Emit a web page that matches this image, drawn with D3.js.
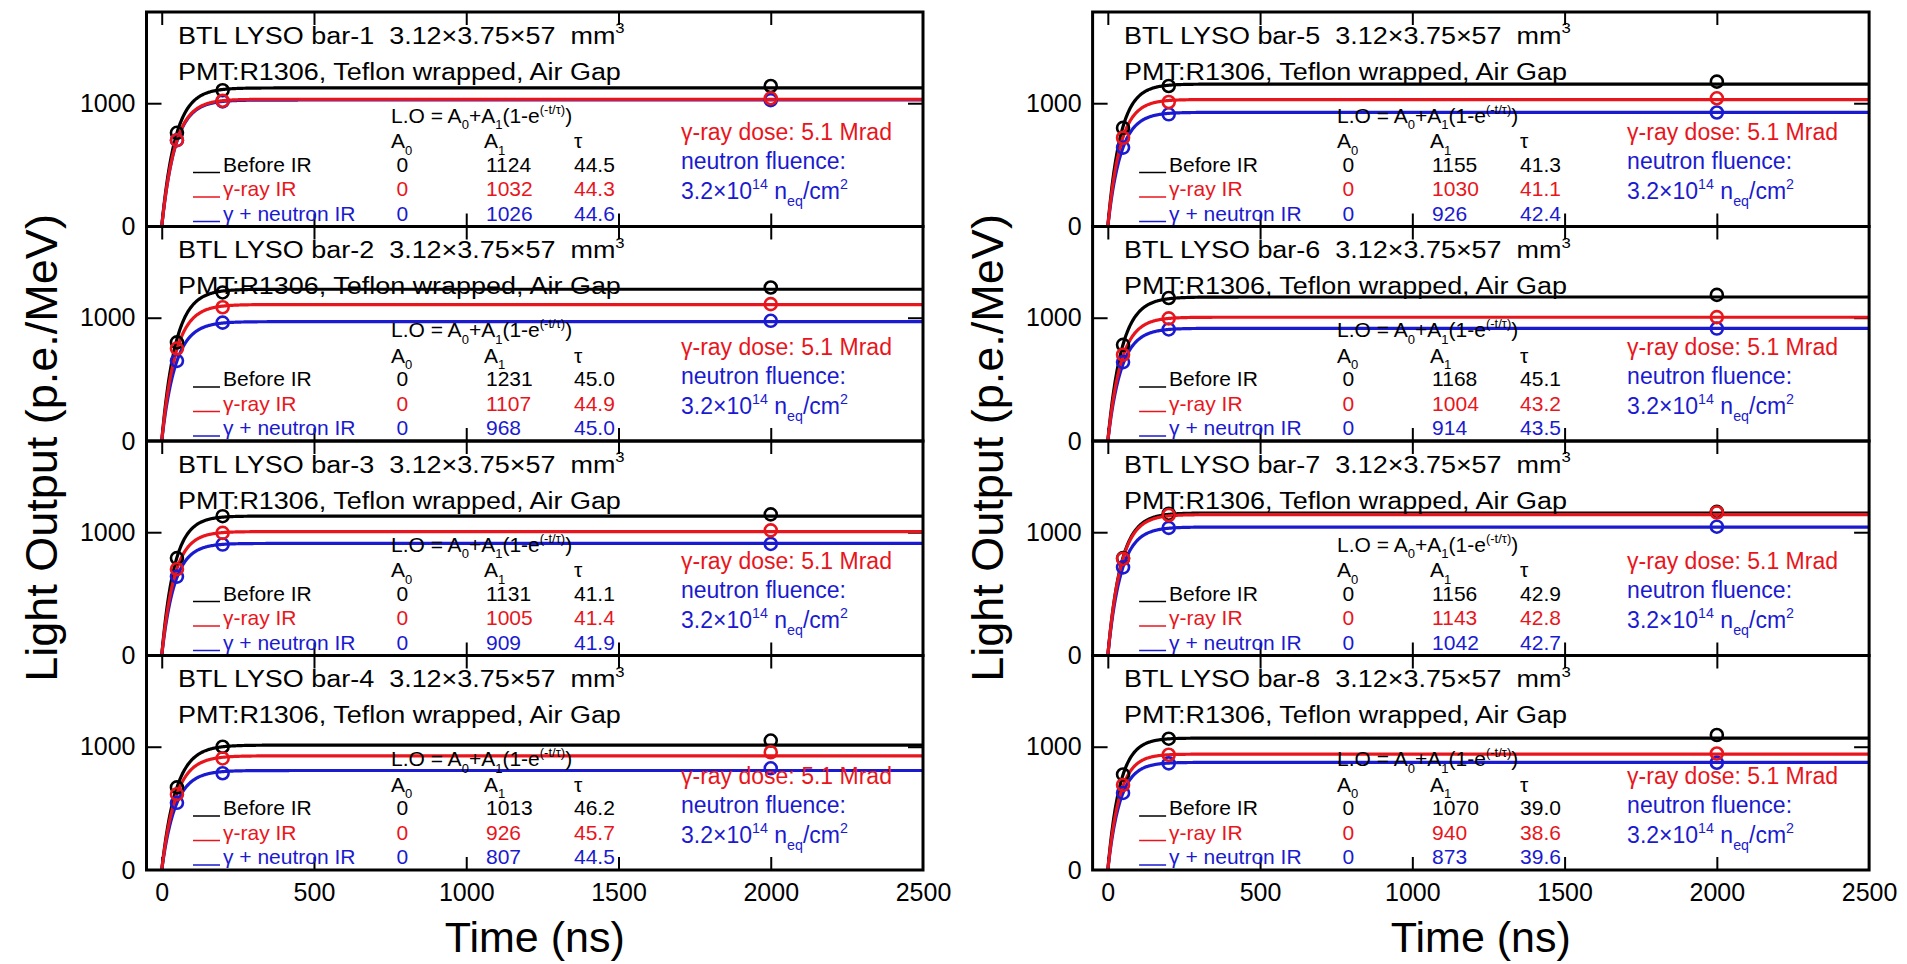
<!DOCTYPE html>
<html>
<head>
<meta charset="utf-8">
<script src="https://cdn.jsdelivr.net/npm/d3@7"></script>
<style>
body { margin: 0; background: #fff; }
text { font-family: "Liberation Sans", Arial, sans-serif; }
</style>
</head>
<body>
<script>
// Light output vs integration time, 8 BTL LYSO bars, before / after irradiation

var width = 1907,
    height = 964;

var bars = ["bar-1", "bar-2", "bar-3", "bar-4", "bar-5", "bar-6", "bar-7", "bar-8"];
var seriesNames = ["Before IR", "γ-ray IR", "γ + neutron IR"];
var seriesColors = ["#000000", "#e8161c", "#1a1ad0"];
var pointTimes = [50, 200, 2000];
var xTicks = [0, 500, 1000, 1500, 2000, 2500];
var yTicks = [0, 1000];

// fit parameters per bar: [before, gamma, gamma+neutron]
var fitA0 = [
  [0, 0, 0], [0, 0, 0], [0, 0, 0], [0, 0, 0],
  [0, 0, 0], [0, 0, 0], [0, 0, 0], [0, 0, 0]
];
var fitA1 = [
  [1124, 1032, 1026], [1231, 1107, 968], [1131, 1005, 909], [1013, 926, 807],
  [1155, 1030, 926], [1168, 1004, 914], [1156, 1143, 1042], [1070, 940, 873]
];
var fitTau = [
  ["44.5", "44.3", "44.6"], ["45.0", "44.9", "45.0"], ["41.1", "41.4", "41.9"], ["46.2", "45.7", "44.5"],
  ["41.3", "41.1", "42.4"], ["45.1", "43.2", "43.5"], ["42.9", "42.8", "42.7"], ["39.0", "38.6", "39.6"]
];

var measured = [
  [[760, 1105, 1140], [700, 1020, 1040], [700, 1015, 1025]],
  [[800, 1205, 1245], [750, 1085, 1110], [650, 960, 975]],
  [[790, 1130, 1145], [700, 995, 1015], [640, 900, 905]],
  [[670, 1000, 1050], [615, 905, 955], [545, 785, 825]],
  [[800, 1140, 1175], [720, 1010, 1040], [640, 910, 925]],
  [[780, 1160, 1185], [700, 995, 1005], [640, 905, 912]],
  [[790, 1150, 1165], [785, 1140, 1160], [715, 1035, 1045]],
  [[775, 1065, 1095], [690, 935, 945], [625, 865, 870]]
];

var plotLeft = [146.5, 1092.6],
    plotW = 776.5,
    top0 = 12,
    panelH = 214.5;

var svg = d3.select("body").append("svg")
    .attr("width", width)
    .attr("height", height);

// text with sub/superscripts, parts = [[string, "sub"|"sup"|undefined], ...]
function richText(parent, x, y, parts, size, color, sx) {
  var t = parent.append("text")
      .attr("transform", "translate(" + x + "," + y + ") scale(" + (sx || 1) + ",1)")
      .attr("font-size", size)
      .attr("fill", color)
      .style("white-space", "pre");
  var off = 0;
  parts.forEach(function (p) {
    var target = p[1] === "sub" ? size * 0.32 : p[1] === "sup" ? -size * 0.42 : 0;
    t.append("tspan")
        .attr("dy", target - off)
        .attr("font-size", p[1] ? size * 0.62 : size)
        .text(p[0]);
    off = target;
  });
  return t;
}

var curveT = d3.range(0, 2501, 2);
var drawOrder = [0, 2, 1];

bars.forEach(function (bar, b) {
  var col = Math.floor(b / 4),
      row = b % 4;
  var px = plotLeft[col],
      py = top0 + row * panelH;

  var x = d3.scaleLinear().domain([-50, 2500]).range([0, plotW]);
  var y = d3.scaleLinear().domain([0, 1740]).range([panelH, 0]);

  var g = svg.append("g").attr("transform", "translate(" + px + "," + py + ")");

  g.append("clipPath").attr("id", "clip" + b)
    .append("rect").attr("width", plotW).attr("height", panelH);

  // inward ticks on all four sides
  g.append("g").attr("class", "tk").attr("transform", "translate(0," + panelH + ")")
      .call(d3.axisBottom(x).tickValues(xTicks.slice(0, 5)).tickSize(-13).tickFormat(""));
  g.append("g").attr("class", "tk")
      .call(d3.axisTop(x).tickValues(xTicks.slice(0, 5)).tickSize(-13).tickFormat(""));
  g.append("g").attr("class", "tk")
      .call(d3.axisLeft(y).tickValues([1000]).tickSize(-15).tickFormat(""));
  g.append("g").attr("class", "tk").attr("transform", "translate(" + plotW + ",0)")
      .call(d3.axisRight(y).tickValues([1000]).tickSize(-15).tickFormat(""));

  // y tick labels
  g.append("g").attr("class", "lab")
      .call(d3.axisLeft(y).tickValues(yTicks).tickSize(0).tickPadding(11).tickFormat(d3.format("d")));

  // x tick labels on the bottom panel only
  if (row === 3) {
    g.append("g").attr("class", "lab").attr("transform", "translate(0," + panelH + ")")
        .call(d3.axisBottom(x).tickValues(xTicks).tickSize(0).tickPadding(13).tickFormat(d3.format("d")));
  }

  // fit curves
  var line = d3.line()
      .x(function (d) { return x(d[0]); })
      .y(function (d) { return y(d[1]); });
  var plot = g.append("g").attr("clip-path", "url(#clip" + b + ")");
  drawOrder.forEach(function (s) {
    var pts = curveT.map(function (t) {
      return [t, fitA0[b][s] + fitA1[b][s] * (1 - Math.exp(-t / +fitTau[b][s]))];
    });
    plot.append("path")
        .attr("d", line(pts))
        .attr("fill", "none")
        .attr("stroke", seriesColors[s])
        .attr("stroke-width", 3.2);
  });
  drawOrder.forEach(function (s) {
    plot.selectAll(null)
        .data(measured[b][s])
        .enter().append("circle")
        .attr("cx", function (d, i) { return x(pointTimes[i]); })
        .attr("cy", function (d) { return y(d); })
        .attr("r", 6)
        .attr("fill", "none")
        .attr("stroke", seriesColors[s])
        .attr("stroke-width", 2.6);
  });

  // frame
  g.append("rect")
      .attr("width", plotW)
      .attr("height", panelH)
      .attr("fill", "none")
      .attr("stroke", "#000")
      .attr("stroke-width", 3);

  // titles
  richText(g, 31.5, 31.5, [["BTL LYSO " + bar + "  3.12×3.75×57  mm"], ["3", "sup"]], 24.5, "#000", 1.1);
  richText(g, 31.5, 67.5, [["PMT:R1306, Teflon wrapped, Air Gap"]], 24.5, "#000", 1.1);

  // fit table
  richText(g, 244.5, 110.5, [["L.O = A"], ["0", "sub"], ["+A"], ["1", "sub"], ["(1-e"], ["(-t/τ)", "sup"], [")"]], 21, "#000");
  richText(g, 244.5, 136, [["A"], ["0", "sub"]], 21, "#000");
  richText(g, 337.5, 136, [["A"], ["1", "sub"]], 21, "#000");
  richText(g, 427.5, 136, [["τ"]], 21, "#000");

  seriesNames.forEach(function (name, s) {
    var by = 159.5 + s * 24.5;
    g.append("line")
        .attr("x1", 46.5).attr("x2", 73.5)
        .attr("y1", by + 1).attr("y2", by + 1)
        .attr("stroke", seriesColors[s])
        .attr("stroke-width", 1.5);
    richText(g, 76.5, by, [[name]], 21, seriesColors[s]);
    richText(g, 250, by, [[String(fitA0[b][s])]], 21, seriesColors[s]);
    richText(g, 339.5, by, [[String(fitA1[b][s])]], 21, seriesColors[s]);
    richText(g, 427.5, by, [[fitTau[b][s]]], 21, seriesColors[s]);
  });

  // irradiation conditions
  richText(g, 534.5, 128, [["γ-ray dose: 5.1 Mrad"]], 23, seriesColors[1]);
  richText(g, 534.5, 157, [["neutron fluence:"]], 23, seriesColors[2]);
  richText(g, 534.5, 187, [["3.2×10"], ["14", "sup"], [" n"], ["eq", "sub"], ["/cm"], ["2", "sup"]], 23, seriesColors[2]);
});

svg.selectAll(".tk .domain, .lab .domain").remove();
svg.selectAll(".tk line").attr("stroke", "#000").attr("stroke-width", 2);
svg.selectAll(".lab text")
    .attr("font-size", 25)
    .attr("fill", "#000")
    .style("font-family", "'Liberation Sans', Arial, sans-serif");

// axis titles
[0, 1].forEach(function (c) {
  svg.append("text")
      .attr("transform", "translate(" + (c === 0 ? 57 : 1003) + ",448) rotate(-90)")
      .attr("text-anchor", "middle")
      .attr("font-size", 45)
      .text("Light Output (p.e./MeV)");
  svg.append("text")
      .attr("x", plotLeft[c] + plotW / 2)
      .attr("y", 952)
      .attr("text-anchor", "middle")
      .attr("font-size", 43)
      .text("Time (ns)");
});
</script>
</body>
</html>
